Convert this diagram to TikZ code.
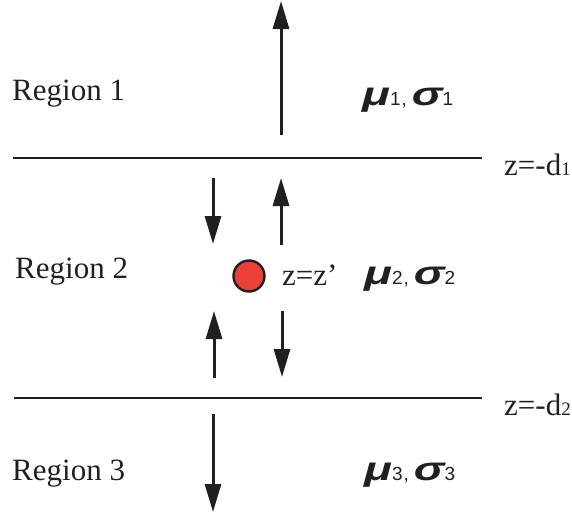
\documentclass[tikz,border=0pt]{standalone}
\usepackage{fontspec}
\usepackage{graphicx}
\setmainfont{Liberation Serif}
\newfontfamily\gfont{Liberation Sans}[BoldItalicFont={* Bold Italic}]
\usetikzlibrary{arrows.meta}
\definecolor{dotred}{RGB}{234,64,54}
\definecolor{ink}{RGB}{35,31,32}
\newcommand{\subsz}{\fontsize{19}{19}\selectfont}
\newcommand{\gsym}[1]{{\gfont\bfseries\itshape\fontsize{33}{33}\selectfont\scalebox{1.4}[1]{#1}}}
\newcommand{\gsub}[1]{{\gfont\fontsize{19}{19}\selectfont #1}}
\newcommand{\glab}[1]{\gsym{μ}\gsub{#1}\hspace{1pt}\gsub{,}\hspace{5pt}\gsym{σ}\gsub{#1}}
\begin{document}
\begin{tikzpicture}[x=1pt,y=-1pt,
  txt/.style={anchor=base west,inner sep=0pt,font=\fontsize{31}{31}\selectfont,text=ink},
  glabel/.style={anchor=base west,inner sep=0pt,text=ink},
  boundary/.style={draw=ink,line width=2.8pt},
  wave/.style={draw=ink,line width=3pt,-{Triangle[length=28pt,width=16pt]}}]
\useasboundingbox (0,0) rectangle (572,514);
% interfaces
\coordinate (l1a) at (13,158);
\coordinate (l1b) at (482,158);
\coordinate (l2a) at (14,398);
\coordinate (l2b) at (482,398);
\draw[boundary] (l1a) -- (l1b);
\draw[boundary] (l2a) -- (l2b);
% labels
\node[txt] (r1) at (12,100) {Region 1};
\node[txt] (r2) at (15,278) {Region 2};
\node[txt] (r3) at (12,480) {Region 3};
\node[txt] (d1) at (504,175) {z=-d{\subsz 1}};
\node[txt] (d2) at (504,415) {z=-d{\subsz 2}};
\node[txt] (zz) at (282,285) {z=z’};
\node[glabel] (m1) at (362,105) {\glab{1}};
\node[glabel] (m2) at (364,284) {\glab{2}};
\node[glabel] (m3) at (364,480) {\glab{3}};
% source
\node[circle,draw=ink,line width=2.4pt,fill=dotred,minimum size=31pt,inner sep=0pt] (src) at (249,276) {};
% arrows
\coordinate (a1s) at (281,135);
\coordinate (a1e) at (281,1);
\draw[wave] (a1s) -- (a1e);
\coordinate (a2s) at (213,178);
\coordinate (a2e) at (213,244);
\draw[wave] (a2s) -- (a2e);
\coordinate (a3s) at (281,245);
\coordinate (a3e) at (281,178);
\draw[wave] (a3s) -- (a3e);
\coordinate (a4s) at (214,378);
\coordinate (a4e) at (214,311);
\draw[wave] (a4s) -- (a4e);
\coordinate (a5s) at (282,311);
\coordinate (a5e) at (282,377);
\draw[wave] (a5s) -- (a5e);
\coordinate (a6s) at (213,414);
\coordinate (a6e) at (213,512);
\draw[wave] (a6s) -- (a6e);
\end{tikzpicture}
\end{document}
